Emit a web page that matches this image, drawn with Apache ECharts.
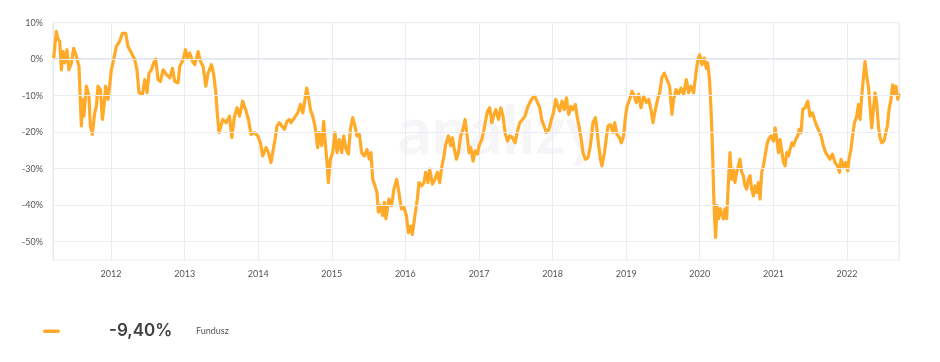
<!DOCTYPE html>
<html><head><meta charset="utf-8">
<script src="https://cdn.jsdelivr.net/npm/echarts@6/dist/echarts.min.js"></script>
<style>html,body{margin:0;padding:0;background:#fff}#c{width:940px;height:362px}</style>
</head><body><div id="c"></div>
<script>
const times = [
2011.222,2011.239,2011.258,2011.280,2011.303,2011.326,2011.348,2011.371,2011.402,2011.429,2011.462,2011.493,2011.530,2011.565,2011.598,2011.620,2011.633,2011.666,2011.701,2011.720,2011.747,2011.779,2011.802,2011.823,2011.856,2011.883,2011.905,2011.928,2011.959,2011.982,
2012.005,2012.037,2012.073,2012.118,2012.155,2012.200,2012.231,2012.277,2012.322,2012.353,2012.380,2012.427,2012.458,2012.489,2012.516,2012.549,2012.580,2012.607,2012.639,2012.671,2012.707,2012.753,2012.798,2012.834,2012.865,2012.910,2012.933,2012.978,
2013.011,2013.038,2013.069,2013.106,2013.137,2013.182,2013.215,2013.250,2013.287,2013.318,2013.364,2013.395,2013.423,2013.446,2013.467,2013.518,2013.563,2013.609,2013.640,2013.677,2013.712,2013.745,2013.789,2013.834,2013.867,2013.902,2013.948,2013.993,
2014.030,2014.061,2014.106,2014.139,2014.174,2014.201,2014.228,2014.255,2014.288,2014.319,2014.356,2014.391,2014.424,2014.446,2014.492,2014.537,2014.573,2014.605,2014.636,2014.659,2014.682,2014.709,2014.741,2014.772,2014.808,2014.832,2014.863,2014.890,2014.908,2014.935,2014.954,2014.981,
2015.012,2015.043,2015.071,2015.103,2015.134,2015.162,2015.193,2015.226,2015.253,2015.284,2015.315,2015.342,2015.375,2015.406,2015.443,2015.478,2015.511,2015.533,2015.556,2015.587,2015.614,2015.633,2015.660,2015.692,2015.715,2015.736,2015.777,2015.814,2015.845,2015.882,2015.913,2015.946,2015.981,
2016.014,2016.041,2016.072,2016.095,2016.130,2016.163,2016.185,2016.221,2016.253,2016.276,2016.307,2016.330,2016.367,2016.402,2016.435,2016.466,2016.493,2016.524,2016.548,2016.584,2016.616,2016.639,2016.660,2016.693,2016.720,2016.751,2016.783,2016.810,2016.833,2016.864,2016.887,2016.918,2016.946,2016.978,
2017.000,2017.037,2017.068,2017.091,2017.114,2017.145,2017.173,2017.204,2017.227,2017.264,2017.295,2017.326,2017.353,2017.386,2017.417,2017.454,2017.489,2017.522,2017.553,2017.590,2017.625,2017.658,2017.689,2017.726,2017.757,2017.794,2017.825,2017.852,2017.883,2017.916,2017.951,2017.984,
2018.011,2018.042,2018.069,2018.096,2018.128,2018.160,2018.188,2018.219,2018.250,2018.277,2018.310,2018.332,2018.359,2018.386,2018.413,2018.446,2018.481,2018.514,2018.549,2018.582,2018.603,2018.626,2018.650,2018.671,2018.704,2018.731,2018.753,2018.785,2018.821,2018.844,2018.875,2018.908,2018.935,2018.966,2018.989,
2019.011,2019.048,2019.079,2019.111,2019.139,2019.170,2019.201,2019.238,2019.274,2019.306,2019.337,2019.364,2019.397,2019.428,2019.455,2019.486,2019.519,2019.554,2019.591,2019.622,2019.645,2019.677,2019.713,2019.745,2019.781,2019.818,2019.849,2019.880,2019.917,2019.949,2019.976,2019.999,
2020.030,2020.062,2020.090,2020.107,2020.130,2020.152,2020.175,2020.189,2020.202,2020.216,2020.234,2020.257,2020.280,2020.298,2020.321,2020.342,2020.365,2020.389,2020.410,2020.433,2020.456,2020.478,2020.501,2020.524,2020.546,2020.569,2020.592,2020.614,2020.637,2020.660,2020.682,2020.705,2020.728,2020.750,2020.773,2020.796,2020.818,2020.841,2020.864,2020.886,2020.909,2020.932,2020.967,
2021.000,2021.022,2021.045,2021.068,2021.090,2021.113,2021.136,2021.158,2021.181,2021.204,2021.226,2021.249,2021.272,2021.303,2021.330,2021.348,2021.375,2021.398,2021.429,2021.466,2021.497,2021.530,2021.557,2021.588,2021.620,2021.647,2021.679,2021.711,2021.738,2021.769,2021.802,2021.837,2021.870,2021.897,2021.919,2021.951,2021.982,
2022.010,2022.027,2022.054,2022.077,2022.101,2022.132,2022.155,2022.177,2022.200,2022.223,2022.245,2022.268,2022.291,2022.313,2022.336,2022.359,2022.381,2022.404,2022.427,2022.449,2022.472,2022.503,2022.526,2022.549,2022.571,2022.598,2022.621,2022.644,2022.666,2022.689,2022.707
];
// fund return in %
const values = [
0.3,4.0,7.6,5.5,4.9,-2.9,2.1,-1.0,2.6,-2.9,-1.0,3.0,0.8,-2.0,-18.3,-11.0,-15.6,-7.4,-10.1,-18.3,-20.6,-14.7,-12.9,-7.4,-8.3,-16.5,-12.9,-7.4,-11.0,-7.4,
-2.9,-0.1,3.5,4.9,7.1,7.1,3.5,1.7,-0.1,-2.9,-9.2,-9.6,-5.6,-9.2,-3.8,-2.9,-1.0,0.0,-5.6,-6.1,-2.9,-4.2,-5.1,-2.5,-6.1,-6.5,-2.0,-0.1,
2.6,0.3,1.7,-0.6,-1.5,2.1,-0.6,-2.0,-7.4,-3.8,-1.5,-4.2,-9.2,-15.6,-20.1,-16.5,-17.4,-15.6,-21.5,-15.6,-13.3,-15.6,-11.5,-14.2,-16.5,-20.6,-20.1,-21.0,
-22.9,-26.5,-24.2,-25.6,-28.3,-28.8,-22.0,-18.3,-17.4,-18.3,-19.2,-17.0,-16.5,-17.4,-16.0,-14.7,-12.4,-14.7,-11.0,-7.9,-10.1,-13.8,-15.6,-18.3,-24.2,-20.1,-23.7,-17.0,-22.0,-28.3,-33.8,-27.4,
-25.6,-20.1,-25.6,-22.0,-25.6,-21.0,-24.7,-26.0,-19.2,-16.0,-18.3,-21.0,-20.6,-25.6,-26.5,-24.7,-27.4,-25.6,-32.9,-34.7,-36.5,-41.9,-40.1,-42.8,-39.2,-43.7,-38.3,-40.1,-35.6,-32.9,-36.5,-41.0,-40.6,
-42.8,-47.5,-45.7,-48.0,-42.8,-38.3,-33.8,-34.7,-33.8,-31.0,-33.8,-30.1,-34.2,-32.9,-31.0,-33.8,-29.7,-26.5,-23.3,-21.0,-23.7,-21.5,-24.2,-27.4,-25.6,-21.0,-19.2,-16.5,-20.1,-25.6,-24.2,-27.9,-25.1,-26.0,
-23.7,-22.0,-19.2,-16.5,-14.2,-13.3,-17.4,-15.1,-13.8,-16.5,-13.3,-15.6,-20.1,-22.4,-21.0,-21.5,-22.9,-19.7,-17.4,-16.5,-15.6,-13.3,-11.9,-10.6,-10.1,-11.9,-13.3,-16.5,-18.3,-20.1,-19.2,-16.5,
-14.7,-11.0,-10.6,-14.2,-11.5,-13.8,-10.6,-15.1,-12.9,-13.8,-12.4,-15.6,-18.3,-21.5,-25.6,-27.4,-27.0,-23.7,-17.4,-16.0,-19.2,-23.7,-27.4,-29.2,-25.6,-21.5,-18.3,-17.9,-20.1,-17.4,-20.6,-21.5,-22.9,-21.0,-16.0,
-12.9,-11.0,-8.8,-10.1,-11.9,-9.6,-13.3,-10.1,-11.9,-11.0,-13.8,-17.4,-13.8,-11.0,-9.2,-5.1,-3.8,-5.6,-7.4,-15.1,-11.0,-8.3,-9.6,-7.9,-9.6,-5.6,-9.2,-7.4,-9.2,-3.8,-0.1,1.2,
-1.5,0.3,-2.5,-1.0,-4.7,-12.9,-25.6,-36.5,-43.7,-48.8,-40.1,-43.7,-41.0,-41.0,-43.7,-41.0,-43.7,-33.8,-25.6,-32.9,-30.1,-33.8,-31.0,-29.2,-27.4,-31.0,-31.9,-34.7,-35.6,-32.9,-31.9,-35.6,-37.4,-34.7,-36.5,-33.8,-38.3,-31.0,-29.2,-26.5,-23.7,-22.0,-21.0,
-22.4,-18.8,-22.0,-25.6,-22.0,-22.4,-28.3,-29.2,-25.6,-26.5,-24.7,-22.9,-23.7,-22.0,-21.0,-19.2,-20.1,-13.8,-13.3,-11.5,-15.6,-14.7,-16.5,-18.3,-19.7,-21.0,-23.7,-25.6,-26.5,-27.4,-26.0,-28.3,-29.2,-31.0,-27.4,-29.7,-28.3,
-30.6,-27.4,-24.7,-21.0,-17.4,-15.6,-12.4,-16.5,-10.1,-5.1,-0.6,-4.7,-7.4,-12.9,-18.8,-13.8,-9.2,-11.9,-18.3,-21.5,-22.9,-22.4,-22.9,-18.3,-13.8,-11.0,-7.0,-9.6,-7.4,-11.0,-9.4
];
const yTicks = [10, 0, -10, -20, -30, -40, -50];
const xRange = [2011.212, 2022.707];
const yRange = [-55, 10];
const seriesName = 'Fundusz';
const lastValueText = '-9,40%';

function toMs(t) {
  const y = Math.floor(t);
  const a = Date.UTC(y, 0, 1), b = Date.UTC(y + 1, 0, 1);
  return a + (t - y) * (b - a);
}
const data = times.map((t, i) => [toMs(t), values[i]]);
const ORANGE = '#ffab29';
const GRID = '#e9ecf3';
const FONT = 'Lato, "Noto Sans", sans-serif';
const YEAR = 365.25 * 86400000;

const chart = echarts.init(document.getElementById('c'), null, {renderer: 'canvas'});
chart.setOption({
  animation: false,
  backgroundColor: '#fff',
  grid: {left: 53, right: 41, top: 22.7, bottom: 102, show: true, borderColor: GRID, borderWidth: 1},
  xAxis: {
    type: 'time',
    min: toMs(xRange[0]), max: toMs(xRange[1]),
    minInterval: YEAR * 0.99, maxInterval: YEAR * 1.01,
    axisLine: {show: true, lineStyle: {color: '#e3e7ef', width: 2}},
    axisTick: {show: false},
    splitLine: {show: true, lineStyle: {color: GRID, width: 1}},
    axisLabel: {formatter: '{yyyy}', color: '#555', fontSize: 9, fontFamily: FONT, margin: 10, hideOverlap: false}
  },
  yAxis: {
    type: 'value', min: yRange[0], max: yRange[1], interval: 5,
    axisLine: {show: true, lineStyle: {color: '#e3e7ef', width: 1}},
    axisTick: {show: false},
    splitLine: {show: false},
    axisLabel: {
      color: '#555', fontSize: 9, fontFamily: FONT, margin: 10,
      formatter: v => (yTicks.indexOf(v) >= 0 ? v + '%' : '')
    }
  },
  graphic: [
    {type: 'text', z: 0, left: 398, top: 100, silent: true,
     style: {text: 'analizy', font: 'bold 66px ' + FONT, fill: '#f6f6f8'}},
    {type: 'rect', left: 43, top: 329.5, shape: {width: 17, height: 3.5, r: 1.75}, style: {fill: ORANGE}},
    {type: 'text', left: 109, top: 322, style: {text: lastValueText, font: '600 17px Inter, ' + FONT, fill: '#3f3f3f'}},
    {type: 'text', left: 196, top: 327, style: {text: seriesName, font: '9px ' + FONT, fill: '#555'}}
  ],
  series: [
    {
      type: 'line', data: [], z: 1, silent: true,
      markLine: {
        silent: true, symbol: ['none', 'none'], label: {show: false},
        lineStyle: {color: GRID, width: 1, type: 'solid'},
        data: yTicks.map(v => ({yAxis: v}))
      }
    },
    {
      name: seriesName, type: 'line', data: data, z: 3,
      showSymbol: false, smooth: false,
      lineStyle: {color: ORANGE, width: 3.2, join: 'round'}
    }
  ]
});
</script>
</body></html>
